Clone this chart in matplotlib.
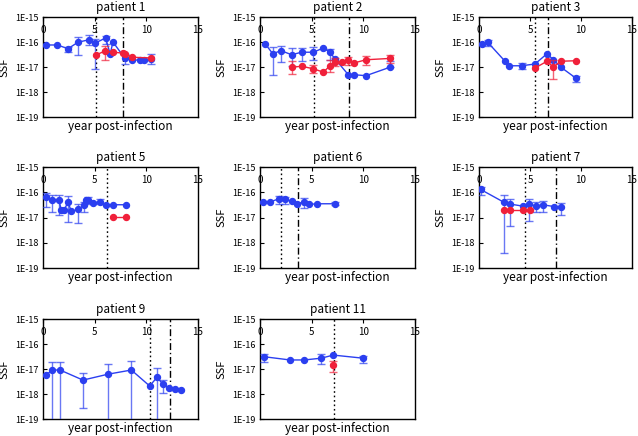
import numpy as np
import matplotlib
matplotlib.use('Agg')
import matplotlib.pyplot as plt
from matplotlib.ticker import FixedLocator, NullLocator

plt.rcParams['font.family'] = ['Noto Sans CJK JP', 'DejaVu Sans']

BLUE = '#2b3ff0'
RED = '#f0203a'

# ---------------- data (SSF values; error bars as lower/upper bounds, None = no bar)
x_ticks = [0, 5, 10, 15]
y_ticks = [1e-19, 1e-18, 1e-17, 1e-16, 1e-15]
y_tick_labels = ['1E-19', '1E-18', '1E-17', '1E-16', '1E-15']

# patient 1
p1_bx = [0.26, 1.39, 2.42, 3.39, 4.45, 5.06, 6.06, 6.5, 6.77, 7.9, 8.65, 9.35, 9.74, 10.48]
p1_by = [7.6e-17, 7.6e-17, 5.4e-17, 9.8e-17, 1.23e-16, 9.1e-17, 1.45e-16, 3.3e-17, 1.0e-16, 2.3e-17, 1.9e-17, 1.9e-17, 1.9e-17, 2.1e-17]
p1_blo = [None, None, 3.9e-17, 3.1e-17, 7.6e-17, 8.5e-18, 8.5e-17, None, None, 1.26e-17, None, None, None, 1.26e-17]
p1_bhi = [None, None, 6.2e-17, 1.58e-16, 1.9e-16, 1.32e-16, 1.78e-16, None, None, 3.2e-17, None, None, None, 3.2e-17]
p1_rx = [5.1, 5.97, 6.77, 7.74, 7.9, 8.65, 10.48]
p1_ry = [3.0e-17, 4.3e-17, 3.9e-17, 3.6e-17, 3.4e-17, 2.45e-17, 2.3e-17]
p1_rlo = [None, 1.86e-17, None, None, None, None, None]
p1_rhi = [None, 7.1e-17, None, None, None, None, None]
p1_dot = 5.1
p1_dash = 7.74

# patient 2
p2_bx = [0.52, 1.23, 2.03, 3.06, 4.03, 5.16, 6.13, 6.77, 7.26, 8.55, 9.1, 10.26, 12.58]
p2_by = [8.3e-17, 3.4e-17, 4.5e-17, 3.1e-17, 3.9e-17, 3.9e-17, 5.75e-17, 3.9e-17, 2.1e-17, 4.9e-18, 4.9e-18, 4.5e-18, 9.8e-18]
p2_blo = [None, 4.9e-18, 1.55e-17, 1.07e-17, 1.7e-17, 1.95e-17, None, 1.86e-17, None, None, None, None, None]
p2_bhi = [None, 6.3e-17, 7.1e-17, 5.75e-17, 5.75e-17, 6.2e-17, None, 5.2e-17, None, None, None, None, 1.7e-17]
p2_rx = [3.06, 4.03, 5.16, 6.13, 6.77, 7.26, 7.97, 8.55, 9.1, 10.26, 12.58]
p2_ry = [9.8e-18, 1.07e-17, 8.5e-18, 6.2e-18, 1.12e-17, 1.55e-17, 1.55e-17, 1.86e-17, 1.45e-17, 1.95e-17, 2.2e-17]
p2_rlo = [5.4e-18, None, 5.75e-18, None, 6.2e-18, 1.07e-17, None, 1.23e-17, None, 1.23e-17, 1.45e-17]
p2_rhi = [1.7e-17, None, 1.23e-17, None, 1.95e-17, 2.3e-17, None, 2.5e-17, None, 2.8e-17, 3.1e-17]
p2_dot = 5.23
p2_dash = 8.6

# patient 3
p3_bx = [0.26, 0.85, 2.55, 2.97, 4.18, 5.49, 6.67, 7.29, 8.0, 9.51]
p3_by = [8.3e-17, 9.8e-17, 1.7e-17, 1.12e-17, 1.12e-17, 1.32e-17, 3.4e-17, 1.95e-17, 1.0e-17, 3.55e-18]
p3_blo = [None, 6.8e-17, None, None, 8.3e-18, None, None, None, None, 2.5e-18]
p3_bhi = [None, 1.23e-16, None, None, 1.45e-17, None, None, None, None, 4.5e-18]
p3_rx = [5.49, 6.67, 7.29, 8.0, 9.51]
p3_ry = [9.1e-18, 1.7e-17, 9.8e-18, 1.7e-17, 1.78e-17]
p3_rlo = [None, None, 3.4e-18, None, None]
p3_rhi = [None, None, 1.95e-17, None, None]
p3_dot = 5.49
p3_dash = 6.8

# patient 5
p5_bx = [0.32, 0.87, 1.55, 1.77, 2.03, 2.42, 2.74, 3.39, 3.94, 4.19, 4.35, 4.84, 5.48, 6.13, 6.77, 8.0]
p5_by = [6.2e-17, 5.1e-17, 4.8e-17, 1.9e-17, 1.9e-17, 4.1e-17, 1.74e-17, 2.1e-17, 3.0e-17, 4.8e-17, 4.8e-17, 3.9e-17, 4.1e-17, 3.2e-17, 3.2e-17, 3.2e-17]
p5_blo = [2.6e-17, 1.66e-17, 1.23e-17, None, None, 6.6e-18, None, 6.0e-18, 1.66e-17, None, 3.5e-17, None, 3.3e-17, None, None, None]
p5_bhi = [9.5e-17, 7.6e-17, 7.9e-17, None, None, 7.1e-17, None, 3.5e-17, 4.1e-17, None, 6.2e-17, None, 5.2e-17, None, None, None]
p5_rx = [6.77, 8.0]
p5_ry = [1.05e-17, 1.05e-17]
p5_rlo = [None, None]
p5_rhi = [None, None]
p5_dot = 6.23
p5_dash = None

# patient 6
p6_bx = [0.32, 0.97, 1.87, 2.42, 3.06, 3.61, 4.29, 4.77, 5.48, 7.29]
p6_by = [4.1e-17, 4.1e-17, 5.6e-17, 5.2e-17, 4.4e-17, 3.5e-17, 4.2e-17, 3.3e-17, 3.5e-17, 3.5e-17]
p6_blo = [None, None, 3.3e-17, 3.5e-17, None, None, 2.4e-17, None, None, 3.0e-17]
p6_bhi = [None, None, 7.1e-17, 6.4e-17, None, None, 6.0e-17, None, None, 4.0e-17]
p6_rx = []
p6_ry = []
p6_rlo = []
p6_rhi = []
p6_dot = 2.0
p6_dash = 3.71

# patient 7
p7_bx = [0.16, 2.45, 3.04, 4.35, 4.93, 5.59, 6.24, 7.39, 8.0]
p7_by = [1.29e-16, 4.0e-17, 3.4e-17, 2.8e-17, 3.4e-17, 2.8e-17, 3.2e-17, 2.7e-17, 2.7e-17]
p7_blo = [7.8e-17, 3.9e-19, 4.7e-18, None, 7.2e-18, 1.7e-17, 1.7e-17, None, 1.26e-17]
p7_bhi = [1.62e-16, 7.8e-17, 5.6e-17, None, 5.4e-17, 4.2e-17, 4.4e-17, None, 3.8e-17]
p7_rx = [2.45, 3.04, 4.35, 5.0]
p7_ry = [2.0e-17, 2.0e-17, 2.0e-17, 2.0e-17]
p7_rlo = [None, None, None, None]
p7_rhi = [None, None, None, None]
p7_dot = 4.5
p7_dash = 7.52

# patient 9
p9_bx = [0.32, 0.87, 1.65, 3.87, 6.29, 8.55, 10.32, 11.03, 11.61, 12.16, 12.81, 13.32]
p9_by = [5.75e-18, 9.1e-18, 9.1e-18, 3.6e-18, 6.2e-18, 9.1e-18, 2.1e-18, 4.6e-18, 2.5e-18, 1.8e-18, 1.6e-18, 1.5e-18]
p9_blo = [None, 1e-21, 1e-21, 2.7e-19, 1e-21, 1e-21, None, 1e-21, 1.07e-18, None, None, None]
p9_bhi = [None, 1.86e-17, 1.86e-17, 6.8e-18, 1.55e-17, 2.15e-17, None, 1.07e-17, 3.6e-18, None, None, None]
p9_rx = []
p9_ry = []
p9_rlo = []
p9_rhi = []
p9_dot = 10.39
p9_dash = 12.26

# patient 11
p11_bx = [0.39, 2.9, 4.29, 5.9, 7.1, 10.0]
p11_by = [3.1e-17, 2.3e-17, 2.3e-17, 2.7e-17, 3.6e-17, 2.7e-17]
p11_blo = [1.95e-17, None, None, 1.58e-17, None, 1.74e-17]
p11_bhi = [4.0e-17, None, None, 4.0e-17, None, 3.4e-17]
p11_rx = [7.03]
p11_ry = [1.48e-17]
p11_rlo = [7.4e-18]
p11_rhi = [2.1e-17]
p11_dot = 7.16
p11_dash = None

panels = [
    ('patient 1', p1_bx, p1_by, p1_blo, p1_bhi, p1_rx, p1_ry, p1_rlo, p1_rhi, p1_dot, p1_dash),
    ('patient 2', p2_bx, p2_by, p2_blo, p2_bhi, p2_rx, p2_ry, p2_rlo, p2_rhi, p2_dot, p2_dash),
    ('patient 3', p3_bx, p3_by, p3_blo, p3_bhi, p3_rx, p3_ry, p3_rlo, p3_rhi, p3_dot, p3_dash),
    ('patient 5', p5_bx, p5_by, p5_blo, p5_bhi, p5_rx, p5_ry, p5_rlo, p5_rhi, p5_dot, p5_dash),
    ('patient 6', p6_bx, p6_by, p6_blo, p6_bhi, p6_rx, p6_ry, p6_rlo, p6_rhi, p6_dot, p6_dash),
    ('patient 7', p7_bx, p7_by, p7_blo, p7_bhi, p7_rx, p7_ry, p7_rlo, p7_rhi, p7_dot, p7_dash),
    ('patient 9', p9_bx, p9_by, p9_blo, p9_bhi, p9_rx, p9_ry, p9_rlo, p9_rhi, p9_dot, p9_dash),
    ('patient 11', p11_bx, p11_by, p11_blo, p11_bhi, p11_rx, p11_ry, p11_rlo, p11_rhi, p11_dot, p11_dash),
]

# ---------------- layout
W, H = 638, 436
fig = plt.figure(figsize=(W / 100, H / 100), dpi=100)
col_px = [(43, 155), (260, 155), (479, 153)]
row_px = [(17, 117), (167, 268), (319, 419)]


def series(ax, xs, ys, lo, hi, color, z):
    if not xs:
        return
    ax.plot(xs, ys, '-', color=color, lw=1.0, zorder=z)
    idx = [i for i in range(len(xs)) if lo[i] is not None or hi[i] is not None]
    if idx:
        ex = [xs[i] for i in idx]
        ey = [ys[i] for i in idx]
        el = [ys[i] - (lo[i] if lo[i] is not None else ys[i]) for i in idx]
        eh = [(hi[i] if hi[i] is not None else ys[i]) - ys[i] for i in idx]
        ax.errorbar(ex, ey, yerr=[el, eh], fmt='none', ecolor=color, alpha=0.7,
                    elinewidth=1.0, capsize=2.8, capthick=1.0, zorder=z)
    ax.plot(xs, ys, 'o', color=color, ms=4.3, mec=color, zorder=z + 0.5)


for k, (title, bx, by, blo, bhi, rx, ry, rlo, rhi, vdot, vdash) in enumerate(panels):
    r, c = divmod(k, 3)
    left, width = col_px[c]
    top, bottom = row_px[r]
    ax = fig.add_axes([left / W, 1 - bottom / H, width / W, (bottom - top) / H])
    ax.set_yscale('log')
    ax.set_xlim(0, 15)
    ax.set_ylim(1e-19, 1e-15)
    if vdot is not None:
        ax.axvline(vdot, color='black', ls=(0, (1.2, 2)), lw=1.0, zorder=1)
    if vdash is not None:
        ax.axvline(vdash, color='black', ls=(0, (5, 2, 1, 2)), lw=1.0, zorder=1)
    series(ax, bx, by, blo, bhi, BLUE, 3)
    series(ax, rx, ry, rlo, rhi, RED, 4)

    ax.yaxis.set_major_locator(FixedLocator(y_ticks))
    ax.yaxis.set_minor_locator(NullLocator())
    ax.set_yticklabels(y_tick_labels)
    ax.xaxis.set_major_locator(FixedLocator(x_ticks))
    ax.xaxis.tick_top()
    ax.tick_params(axis='x', direction='in', length=3, pad=-13, labelsize=7,
                   top=True, bottom=False, labeltop=True, labelbottom=False)
    ax.tick_params(axis='y', direction='in', length=3, labelsize=6.5, pad=3)
    ax.set_xlabel('year post-infection', fontsize=8.5, labelpad=2)
    ax.xaxis.set_label_position('bottom')
    ax.set_ylabel('SSF', fontsize=8, labelpad=4)
    ax.set_title(title, fontsize=8.5, pad=4)
    for s in ax.spines.values():
        s.set_linewidth(1.0)

fig.savefig('out.png', dpi=100)
